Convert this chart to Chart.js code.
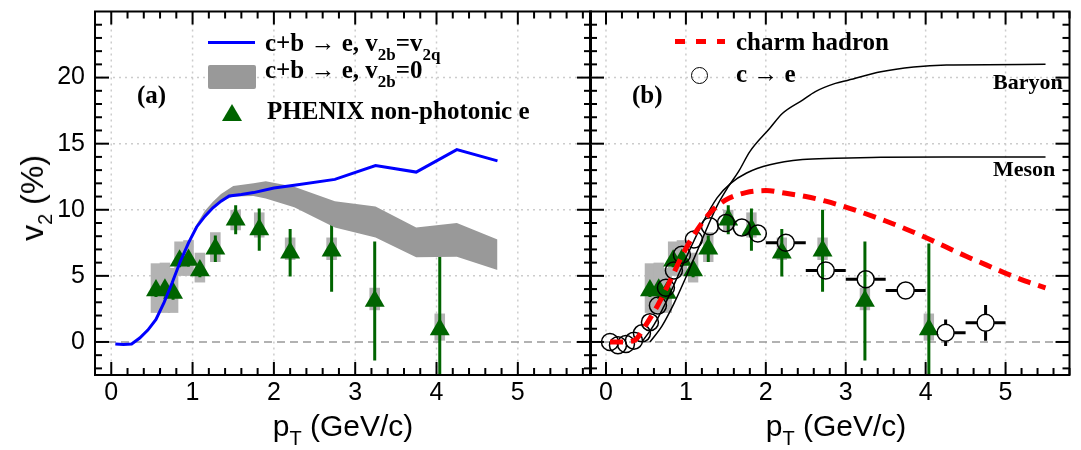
<!DOCTYPE html>
<html>
<head>
<meta charset="utf-8">
<script src="https://cdn.jsdelivr.net/npm/chart.js@4.4.1/dist/chart.umd.min.js"></script>
<style>
  body { margin: 0; background: #fff; }
  #wrap { position: relative; width: 1081px; height: 450px; background: #fff; overflow: hidden; }
  #wrap canvas { position: absolute; left: 0; top: 0; }
  .t { position: absolute; white-space: nowrap; font: bold 25px "Liberation Serif", "DejaVu Serif", serif; line-height: 25px; color: #000; }
  .t sub { font-size: 17px; vertical-align: -9px; line-height: 0; }
  .ax { position: absolute; white-space: nowrap; font: 30px "Liberation Sans", Arial, sans-serif; line-height: 30px; color: #000; }
  .ax sub { font-size: 20px; vertical-align: -9px; line-height: 0; }
</style>
</head>
<body>
<div id="wrap">
  <canvas id="panelA" width="1081" height="450"></canvas>
  <canvas id="panelB" width="1081" height="450"></canvas>

  <!-- panel (a) legend -->
  <div style="position:absolute;left:208px;top:41px;width:47px;height:3px;background:#0000ff"></div>
  <div class="t" style="left:265px;top:30px">c+b → e, v<sub>2b</sub>=v<sub>2q</sub></div>
  <div style="position:absolute;left:208px;top:65px;width:48px;height:24px;background:#999;border-radius:2px"></div>
  <div class="t" style="left:265px;top:57px">c+b → e, v<sub>2b</sub>=0</div>
  <div style="position:absolute;left:222px;top:104px;width:0;height:0;border-left:10px solid transparent;border-right:10px solid transparent;border-bottom:17px solid #006400"></div>
  <div class="t" style="left:267px;top:98px">PHENIX non-photonic e</div>
  <div class="t" style="left:137px;top:82px">(a)</div>

  <!-- panel (b) legend -->
  <div style="position:absolute;left:675px;top:39px;width:50px;height:5px;background:repeating-linear-gradient(90deg,#ff0000 0 10px,transparent 10px 21px)"></div>
  <div class="t" style="left:736px;top:29px">charm hadron</div>
  <div style="position:absolute;left:691px;top:67px;width:15px;height:15px;border:1.5px solid #000;border-radius:50%"></div>
  <div class="t" style="left:736px;top:61px">c → e</div>
  <div class="t" style="left:632px;top:82px">(b)</div>
  <div class="t" style="left:993px;top:71px;font-size:22px;line-height:22px">Baryon</div>
  <div class="t" style="left:993px;top:158px;font-size:22px;line-height:22px">Meson</div>

  <!-- axis titles -->
  <div class="ax" style="left:32px;top:198px;font-size:32px;transform:translate(-50%,-50%) rotate(-90deg)">v<sub>2</sub> (%)</div>
  <div class="ax" style="left:343px;top:411px;transform:translateX(-50%)">p<sub>T</sub> (GeV/c)</div>
  <div class="ax" style="left:836px;top:411px;transform:translateX(-50%)">p<sub>T</sub> (GeV/c)</div>
</div>

<script>
// axis ticks
const xTicks = [0, 1, 2, 3, 4, 5];
const yTicks = [0, 5, 10, 15, 20];

// c+b -> e, v2b = v2q (blue line)
const ptBlue = [0.05, 0.15, 0.25, 0.35, 0.45, 0.55, 0.65, 0.75, 0.85, 0.95, 1.05, 1.15, 1.25, 1.35, 1.45, 1.6, 1.75, 2.0, 2.25, 2.75, 3.25, 3.75, 4.25, 4.75];
const v2Blue = [-0.15, -0.2, -0.15, 0.3, 0.9, 1.7, 3.0, 4.5, 6.1, 7.5, 8.7, 9.5, 10.15, 10.65, 11.05, 11.15, 11.3, 11.65, 11.85, 12.3, 13.35, 12.85, 14.55, 13.7];

// c+b -> e, v2b = 0 (grey band)
const ptBand = [0.95, 1.05, 1.15, 1.25, 1.35, 1.5, 1.75, 1.9, 2.25, 2.75, 3.25, 3.75, 4.25, 4.75];
const bandLo = [7.5, 8.7, 9.5, 10.15, 10.65, 11.0, 11.05, 10.85, 10.2, 8.65, 7.9, 6.4, 6.45, 5.45];
const bandHi = [7.5, 8.9, 9.9, 10.6, 11.2, 11.8, 12.0, 12.15, 11.75, 10.65, 10.25, 8.65, 9.0, 7.75];

// PHENIX non-photonic electrons
const ptPhx = [0.55, 0.66, 0.76, 0.84, 0.95, 1.09, 1.28, 1.53, 1.82, 2.2, 2.71, 3.24, 4.04];
const v2Phx = [3.9, 3.95, 3.7, 6.15, 6.2, 5.4, 7.05, 9.25, 8.5, 6.75, 6.9, 3.1, 0.95];
const statPhx = [0.5, 0.5, 0.5, 0.5, 0.5, 0.5, 1.0, 1.1, 1.6, 1.8, 3.1, 4.5, 6.5];
const sysLoPhx = [2.2, 2.2, 2.2, 5.0, 5.0, 4.5, 6.05, 8.45, 7.9, 6.2, 6.2, 2.4, 0.1];
const sysHiPhx = [5.95, 6.0, 5.6, 7.6, 7.7, 6.75, 8.3, 10.0, 9.8, 7.9, 7.9, 4.1, 2.15];

// charm hadron (red dashed)
const ptCharm = [0.05, 0.2, 0.35, 0.5, 0.65, 0.8, 0.95, 1.1, 1.3, 1.5, 1.75, 2.0, 2.25, 2.5, 2.75, 3.0, 3.25, 3.5, 3.75, 4.0, 4.25, 4.5, 4.75, 5.0, 5.25, 5.5];
const v2Charm = [0, 0, 0.1, 1.3, 2.8, 4.6, 6.5, 8.1, 9.75, 10.75, 11.3, 11.45, 11.25, 11.0, 10.65, 10.2, 9.7, 9.15, 8.55, 7.9, 7.2, 6.5, 5.85, 5.2, 4.6, 4.1];

// c -> e (open circles)
const ptCe = [0.05, 0.15, 0.25, 0.35, 0.45, 0.55, 0.65, 0.75, 0.85, 0.95, 1.1, 1.3, 1.5, 1.7, 1.9, 2.25, 2.75, 3.25, 3.75, 4.25, 4.75];
const v2Ce = [0.0, -0.25, -0.15, 0.1, 0.65, 1.5, 2.75, 4.1, 5.4, 6.6, 7.75, 8.75, 9.0, 8.65, 8.2, 7.5, 5.4, 4.75, 3.9, 0.7, 1.45];
const xErrCe = [0, 0, 0, 0, 0, 0, 0, 0, 0, 0, 0, 0, 0, 0, 0, 0.25, 0.25, 0.25, 0.25, 0.25, 0.25];
const yErrCe = [0, 0, 0, 0, 0, 0, 0, 0, 0, 0, 0, 0, 0, 0, 0, 0.3, 0.3, 0.4, 0.4, 1.0, 1.35];

// quark number scaling curves
const ptMeson = [0.45, 0.6, 0.75, 0.9, 1.05, 1.2, 1.39, 1.56, 1.76, 2.05, 2.46, 2.87, 3.44, 4.5, 5.5];
const v2Meson = [0, 1.3, 3.0, 5.0, 7.0, 8.9, 10.9, 12.0, 12.78, 13.4, 13.8, 13.9, 13.98, 14.0, 14.0];
const ptBaryon = [0.55, 0.7, 0.85, 1.0, 1.15, 1.27, 1.39, 1.52, 1.66, 1.8, 2.05, 2.21, 2.46, 2.62, 2.87, 3.03, 3.44, 3.85, 4.26, 5.5];
const v2Baryon = [0, 1.2, 2.9, 4.9, 7.0, 8.7, 10.3, 11.65, 12.9, 14.4, 16.17, 17.3, 18.3, 18.94, 19.56, 19.8, 20.44, 20.8, 20.95, 21.0];

const GREEN = '#006400';
const pts = (xs, ys) => xs.map((x, i) => ({ x, y: ys[i] }));

function seg(ctx, x1, y1, x2, y2) {
  ctx.beginPath(); ctx.moveTo(x1, y1); ctx.lineTo(x2, y2); ctx.stroke();
}

// grid, zero line, error bars, systematic boxes, frame and inward ticks
const deco = {
  id: 'deco',
  beforeDatasetsDraw(chart, args, o) {
    const { ctx, chartArea: a, scales: { x, y } } = chart;
    ctx.save();
    ctx.beginPath(); ctx.rect(a.left, a.top, a.right - a.left, a.bottom - a.top); ctx.clip();

    ctx.strokeStyle = '#cccccc'; ctx.lineWidth = 1.5; ctx.setLineDash([2, 4]);
    xTicks.forEach(v => { const X = x.getPixelForValue(v); seg(ctx, X, a.top, X, a.bottom); });
    yTicks.filter(v => v > 0).forEach(v => { const Y = y.getPixelForValue(v); seg(ctx, a.left, Y, a.right, Y); });

    ctx.strokeStyle = '#999999'; ctx.setLineDash([8, 5]);
    const y0 = y.getPixelForValue(0);
    seg(ctx, a.left, y0, a.right, y0);
    ctx.setLineDash([]);

    // PHENIX systematic boxes
    ctx.fillStyle = '#b3b3b3';
    ptPhx.forEach((p, i) => {
      const x1 = x.getPixelForValue(p - 0.065), x2 = x.getPixelForValue(p + 0.065);
      const y1 = y.getPixelForValue(sysHiPhx[i]), y2 = y.getPixelForValue(sysLoPhx[i]);
      ctx.fillRect(x1, y1, x2 - x1, y2 - y1);
    });
    // PHENIX statistical errors
    ctx.strokeStyle = GREEN; ctx.lineWidth = 3;
    ptPhx.forEach((p, i) => {
      const X = x.getPixelForValue(p);
      seg(ctx, X, y.getPixelForValue(v2Phx[i] + statPhx[i]), X, y.getPixelForValue(v2Phx[i] - statPhx[i]));
    });

    // c -> e error bars, kept outside the marker
    if (o.circles) {
      const r = 8.5;
      ctx.strokeStyle = '#000'; ctx.lineWidth = 3;
      ptCe.forEach((p, i) => {
        const X = x.getPixelForValue(p), Y = y.getPixelForValue(v2Ce[i]);
        if (xErrCe[i] > 0) {
          const xl = x.getPixelForValue(p - xErrCe[i]), xr = x.getPixelForValue(p + xErrCe[i]);
          seg(ctx, xl, Y, X - r, Y); seg(ctx, X + r, Y, xr, Y);
        }
        const yt = y.getPixelForValue(v2Ce[i] + yErrCe[i]), yb = y.getPixelForValue(v2Ce[i] - yErrCe[i]);
        if (Y - yt > r) { seg(ctx, X, yt, X, Y - r); seg(ctx, X, Y + r, X, yb); }
      });
    }
    ctx.restore();
  },
  afterDatasetsDraw(chart) {
    const { ctx, chartArea: a, scales: { x, y } } = chart;
    ctx.save();
    ctx.strokeStyle = '#000'; ctx.lineWidth = 2;
    ctx.strokeRect(a.left, a.top, a.right - a.left, a.bottom - a.top);
    for (let i = -1; i <= 29; i++) {
      const v = i / 5;
      if (v > x.max) break;
      const X = x.getPixelForValue(v), len = i % 5 === 0 ? 13 : 7;
      seg(ctx, X, a.bottom, X, a.bottom - len);
      seg(ctx, X, a.top, X, a.top + len);
    }
    for (let v = -2; v <= 24; v++) {
      const Y = y.getPixelForValue(v), len = v % 5 === 0 ? 14 : 7;
      seg(ctx, a.left, Y, a.left + len, Y);
      seg(ctx, a.right, Y, a.right - len, Y);
    }
    ctx.restore();
  }
};

function makeOptions(xMax, padding, showY, circles) {
  return {
    responsive: false,
    animation: false,
    devicePixelRatio: 1,
    layout: { padding },
    plugins: { legend: { display: false }, tooltip: { enabled: false }, deco: { circles } },
    scales: {
      x: {
        type: 'linear', min: -0.2, max: xMax,
        grid: { display: false, drawTicks: false }, border: { display: false },
        afterBuildTicks: s => { s.ticks = xTicks.map(value => ({ value })); },
        afterFit: s => { s.height = 75; s.paddingLeft = 0; s.paddingRight = 0; },
        ticks: { color: '#000', padding: 3, font: { family: '"Liberation Sans", Arial, sans-serif', size: 25 } }
      },
      y: {
        type: 'linear', min: -2.5, max: 25,
        grid: { display: false, drawTicks: false }, border: { display: false },
        afterBuildTicks: s => { s.ticks = yTicks.map(value => ({ value })); },
        afterFit: s => { s.width = showY ? 95 : 0; s.paddingTop = 0; s.paddingBottom = 0; },
        ticks: { display: showY, color: '#000', padding: 10, font: { family: '"Liberation Sans", Arial, sans-serif', size: 25 } }
      }
    }
  };
}

const lineDs = (data, color, width, extra) => Object.assign({
  type: 'line', data, borderColor: color, borderWidth: width, pointRadius: 0, fill: false, tension: 0
}, extra || {});

const phenixDs = order => ({
  type: 'scatter', data: pts(ptPhx, v2Phx), pointStyle: 'triangle', pointRadius: 11.5,
  backgroundColor: GREEN, borderColor: GREEN, borderWidth: 0, order
});

new Chart(document.getElementById('panelA'), {
  type: 'scatter',
  data: {
    datasets: [
      lineDs(pts(ptBand, bandLo), 'rgba(0,0,0,0)', 0, { order: 5 }),
      lineDs(pts(ptBand, bandHi), 'rgba(0,0,0,0)', 0, { order: 4, fill: '-1', backgroundColor: '#999999' }),
      lineDs(pts(ptBlue, v2Blue), '#0000ff', 3, { order: 1 }),
      phenixDs(2)
    ]
  },
  options: makeOptions(5.9, { left: 0, right: 490, top: 11, bottom: 0 }, true, false),
  plugins: [deco]
});

new Chart(document.getElementById('panelB'), {
  type: 'scatter',
  data: {
    datasets: [
      phenixDs(4),
      {
        type: 'scatter', data: pts(ptCe, v2Ce), pointStyle: 'circle', pointRadius: 8.5,
        backgroundColor: 'rgba(0,0,0,0)', borderColor: '#000', borderWidth: 1.5, order: 3
      },
      lineDs(pts(ptBaryon, v2Baryon), '#000', 1.5, { order: 2, cubicInterpolationMode: 'monotone' }),
      lineDs(pts(ptMeson, v2Meson), '#000', 1.5, { order: 2, cubicInterpolationMode: 'monotone' }),
      lineDs(pts(ptCharm, v2Charm), '#ff0000', 5, { order: 1, borderDash: [13, 8], cubicInterpolationMode: 'monotone' })
    ]
  },
  options: makeOptions(5.8, { left: 590, right: 3, top: 11, bottom: 0 }, false, true),
  plugins: [deco]
});
</script>
</body>
</html>
